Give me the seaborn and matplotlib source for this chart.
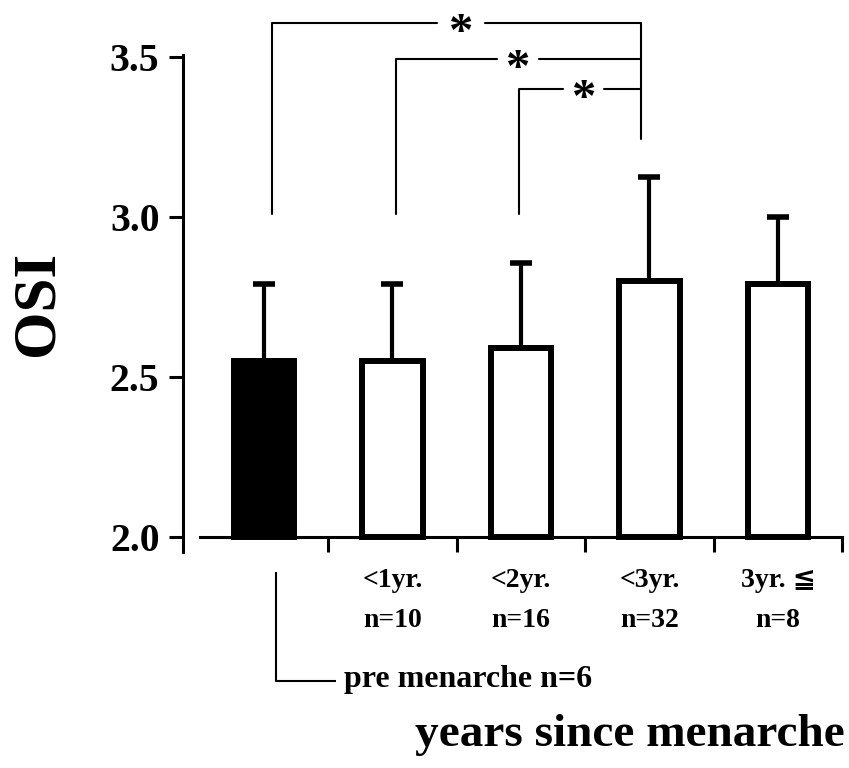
import matplotlib
matplotlib.use('Agg')
import matplotlib.pyplot as plt
import seaborn as sns
import pandas as pd
import numpy as np

# ---- data ----
categories = ['pre menarche', '<1yr.', '<2yr.', '<3yr.', '3yr. \u2266']
osi_mean = [2.55, 2.55, 2.59, 2.80, 2.79]
osi_sd = [0.24, 0.24, 0.265, 0.325, 0.21]
tick_labels = ['<1yr.', '<2yr.', '<3yr.', '3yr. \u2266']
n_labels = ['n=10', 'n=16', 'n=32', 'n=8']
pre_label = 'pre menarche n=6'
y_ticks = [2.0, 2.5, 3.0, 3.5]
bar_fill = ['black', 'white', 'white', 'white', 'white']
sig_mark = '*'

sns.set_style('ticks')
plt.rcParams['font.family'] = ['Liberation Serif', 'DejaVu Serif', 'DejaVu Sans']
plt.rcParams['font.weight'] = 'bold'
for k in ['text.color', 'axes.labelcolor', 'xtick.color', 'ytick.color',
          'axes.edgecolor', 'xtick.labelcolor', 'ytick.labelcolor']:
    plt.rcParams[k] = 'black'

df = pd.DataFrame({'group': categories, 'OSI': osi_mean})

W, H = 849, 768
fig = plt.figure(figsize=(W / 100, H / 100), dpi=100)
left_px, right_px, top_px, bot_px = 183, 849, 9, 552
ax = fig.add_axes([left_px / W, 1 - bot_px / H,
                   (right_px - left_px) / W, (bot_px - top_px) / H])

sns.barplot(data=df, x='group', y='OSI', hue='group', order=categories,
            hue_order=categories, palette=bar_fill, width=0.47,
            edgecolor='black', linewidth=4.3, legend=False, ax=ax, zorder=3)
base = 2.0
for p, v in zip(ax.patches, osi_mean):
    p.set_y(base)
    p.set_height(v - base)

xpos = np.arange(len(categories))
ax.errorbar(xpos, osi_mean, yerr=[np.zeros(len(osi_sd)), osi_sd], fmt='none',
            ecolor='black', elinewidth=3.0, capsize=7.9, capthick=4.0, zorder=2)

# axes styling
sns.despine(ax=ax, top=True, right=True)
ax.set_xlim(-0.63, 4.553)
ax.set_ylim(1.953, 3.65)
ax.spines['left'].set_linewidth(2.2)
ax.spines['left'].set_bounds(1.953, 3.505)
ax.spines['bottom'].set_position(('data', base))
ax.spines['bottom'].set_bounds(-0.5, 4.5)
ax.spines['bottom'].set_linewidth(2.2)
ax.set_yticks(y_ticks)
ax.set_yticklabels([f'{t:.1f}' for t in y_ticks])
ax.set_xticks([0.5, 1.5, 2.5, 3.5, 4.5])
ax.set_xticklabels([])
ax.tick_params(axis='y', direction='out', length=10, width=2.2,
               labelsize=28.5, pad=7, colors='black')
ax.tick_params(axis='x', direction='out', length=11, width=2.2, colors='black')

# category labels
for i, (lab, nlab) in enumerate(zip(tick_labels, n_labels), start=1):
    ax.text(i, 1.845, lab, ha='center', va='baseline', fontsize=20,
            fontweight='bold', clip_on=False)
    ax.text(i, 1.72, nlab, ha='center', va='baseline', fontsize=20,
            fontweight='bold', clip_on=False)

# pre menarche pointer
ax.plot([0.093, 0.093, 0.56], [1.891, 1.55, 1.55], color='black',
        lw=1.5, clip_on=False, solid_capstyle='butt')
ax.text(0.62, 1.53, pre_label, ha='left', va='baseline', fontsize=23,
        fontweight='bold', clip_on=False)

# significance brackets
right_x = 2.934
levels = [3.606, 3.494, 3.40]
lefts = [0.062, 1.027, 1.984]
stars_x = [1.533, 1.977, 2.49]
gaps = [0.19, 0.16, 0.16]
lw_b = 1.5
ax.plot([right_x, right_x], [levels[0], 3.244], color='black', lw=lw_b)
for lx, yl, sx, g in zip(lefts, levels, stars_x, gaps):
    ax.plot([lx, lx, sx - g], [3.01, yl, yl], color='black', lw=lw_b)
    ax.plot([sx + g, right_x], [yl, yl], color='black', lw=lw_b)
    ax.text(sx, yl - 0.072, sig_mark, ha='center', va='baseline',
            fontsize=35, fontweight='bold')

ax.set_ylabel('OSI', fontsize=44, fontweight='bold', va='center', ha='center')
ax.yaxis.set_label_coords(-0.218, 0.4586)
ax.set_xlabel('years since menarche', fontsize=34, fontweight='bold',
              ha='right', va='baseline')
ax.xaxis.set_label_coords(0.994, -0.358)

fig.savefig('out.png', dpi=100)
